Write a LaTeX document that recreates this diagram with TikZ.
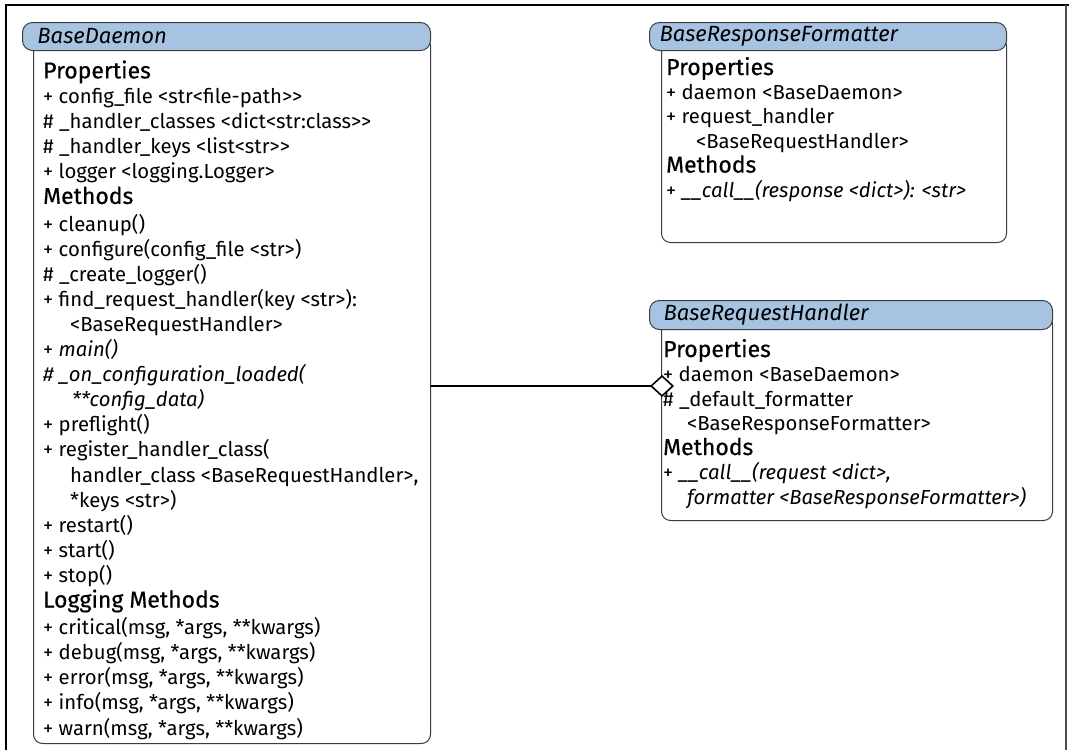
\documentclass[tikz,border=0pt]{standalone}
\usepackage{fontspec}
\setmainfont{Fira Sans}
\newfontfamily\headfamily[FakeBold=0.5]{Fira Sans}
\usetikzlibrary{arrows.meta}
\definecolor{headblue}{HTML}{A7C3E2}
\definecolor{boxline}{HTML}{3C3C3C}
\newcommand\sectfont{\headfamily\fontsize{23}{25}\selectfont}

\begin{document}
\begin{tikzpicture}[x=1pt,y=-1pt,
	classbody/.style={draw=boxline,line width=1pt,fill=white,rounded corners=9pt,anchor=north west,inner sep=0pt},
	classhead/.style={draw=boxline,line width=1pt,fill=headblue,rounded corners=10pt,anchor=north west,inner ysep=0pt,minimum height=28pt,align=left,font=\fontsize{22}{24}\selectfont\itshape},
	members/.style={anchor=base west,inner sep=0pt,align=left,font=\fontsize{20.3}{25.1}\selectfont}]
				\useasboundingbox (0,0) rectangle (1069,750);
				\draw[line width=2.5pt] (6,750) -- (6,5) -- (1069,5);
				\draw[black!70,line width=1.5pt] (1066,5) -- (1066,750);
				\node[classbody,minimum width=397pt,minimum height=707pt] (dmnbody) at (33,36) {};
				\node[classbody,minimum width=345pt,minimum height=206pt] (fmtbody) at (661,36) {};
				\node[classbody,minimum width=391pt,minimum height=206pt] (hdlbody) at (661,314) {};
				\node[classhead,inner xsep=15pt,text width=378pt] (dmn) at (22,22) {BaseDaemon};
				\node[classhead,inner xsep=10pt,text width=337pt] (fmt) at (649,22) {BaseResponseFormatter};
				\node[classhead,inner xsep=14pt,text width=375pt,minimum height=29pt] (hdl) at (649,300) {BaseRequestHandler};
				\node[members] (dmnmembers) at (43,735) {{\sectfont Properties}\\
					+ config\_file <str<file-path>{}>\\
					\# \_handler\_classes <dict<str:class>{}>\\
					\# \_handler\_keys <list<str>{}>\\
					+ logger <logging.Logger>\\
					{\sectfont Methods}\\[2pt]
					+ cleanup()\\
					+ configure(config\_file <str>)\\
					\# \_create\_logger()\\
					+ find\_request\_handler(key <str>):\\
					\hspace*{27pt}<BaseRequestHandler>\\
					+ \textit{main()}\\
					\textit{\# \_on\_configuration\_loaded(}\\
					\hspace*{29pt}\textit{**config\_data)}\\
					+ preflight()\\
					+ register\_handler\_class(\\
					\hspace*{27pt}handler\_class <BaseRequestHandler>,\\
					\hspace*{27pt}*keys <str>)\\
					+ restart()\\
					+ start()\\
					+ stop()\\
					{\sectfont Logging Methods}\\[2pt]
					+ critical(msg, *args, **kwargs)\\
					+ debug(msg, *args, **kwargs)\\
					+ error(msg, *args, **kwargs)\\
					+ info(msg, *args, **kwargs)\\
					+ warn(msg, *args, **kwargs)};
				\node[members,font=\fontsize{20.3}{24.4}\selectfont] (fmtmembers) at (666,197) {{\sectfont Properties}\\
					+ daemon <BaseDaemon>\\
					+ request\_handler\\
					\hspace*{30pt}<BaseRequestHandler>\\
					{\sectfont Methods}\\
					+ \textit{\_\_call\_\_(response <dict>): <str>}};
				\node[members,font=\fontsize{20.3}{24.5}\selectfont] (hdlmembers) at (663,504) {{\sectfont Properties}\\
					+ daemon <BaseDaemon>\\
					\# \_default\_formatter\\
					\hspace*{24pt}<BaseResponseFormatter>\\
					{\sectfont Methods}\\
					+ \textit{\_\_call\_\_(request <dict>,}\\
					\hspace*{24pt}\textit{formatter <BaseResponseFormatter>)}};
				\coordinate (agg) at (674,386);
				\draw[line width=1.6pt,-{Diamond[fill=white,length=24pt,width=22pt]}] (dmnbody.east |- agg) -- (agg);
\end{tikzpicture}
\end{document}
